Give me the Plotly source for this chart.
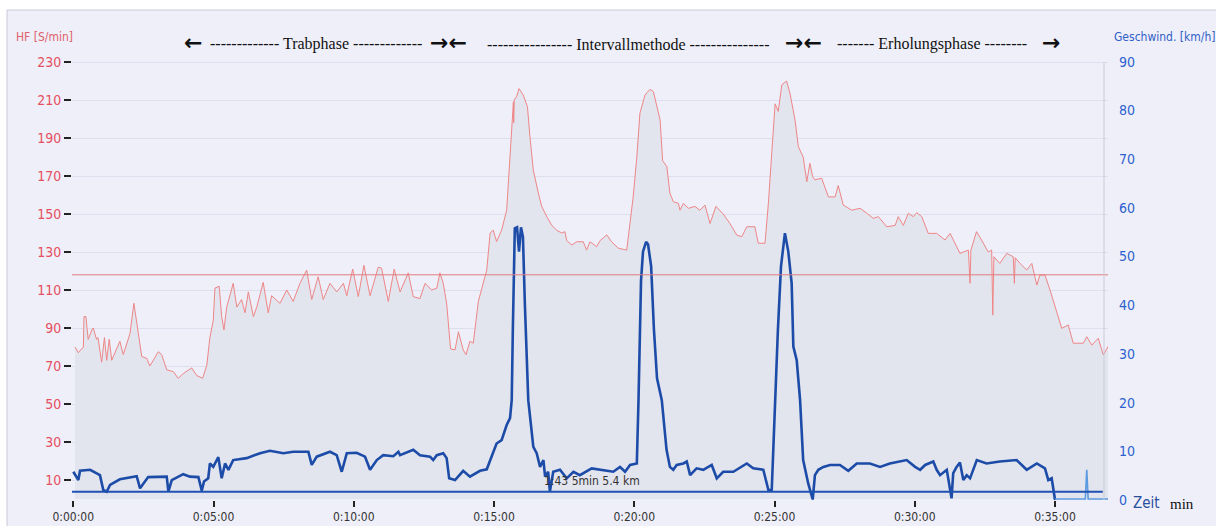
import plotly.graph_objects as go

# ---------------- data (time in minutes) ----------------
hf_time = [0.06,0.18,0.36,0.38,0.45,0.53,0.66,0.71,0.83,0.88,1.01,1.11,1.19,1.28,1.37,1.49,1.66,1.78,2.02,2.16,
           2.26,2.44,2.62,2.73,3.03,3.15,3.33,3.57,3.74,3.92,4.22,4.40,4.61,4.76,4.87,4.99,5.05,5.20,5.29,5.37,
           5.47,5.70,5.83,6.00,6.12,6.24,6.42,6.54,6.77,6.95,7.07,7.37,7.61,7.84,8.08,8.32,8.50,8.73,8.91,9.15,
           9.39,9.63,9.75,9.96,10.16,10.36,10.58,10.87,10.99,11.23,11.44,11.65,11.94,12.12,12.36,12.54,12.78,12.96,13.07,13.19,
           13.31,13.45,13.61,13.73,13.90,14.00,14.14,14.26,14.44,14.74,14.86,14.97,15.09,15.27,15.45,15.57,15.69,15.70,15.72,15.81,
           15.89,16.04,16.19,16.28,16.40,16.58,16.70,16.88,17.06,17.23,17.41,17.53,17.59,17.77,17.95,18.18,18.30,18.42,18.66,18.78,
           19.02,19.19,19.43,19.73,19.85,19.96,20.09,20.20,20.38,20.56,20.68,20.80,20.92,21.01,21.16,21.27,21.39,21.57,21.63,21.75,
           21.93,22.16,22.34,22.52,22.70,22.91,23.17,23.41,23.65,23.83,24.01,24.30,24.42,24.66,24.78,24.90,25.02,25.13,25.26,25.43,
           25.55,25.73,25.85,26.02,26.15,26.26,26.36,26.44,26.68,26.92,27.16,27.27,27.45,27.75,28.05,28.29,28.52,28.70,29.00,29.30,
           29.41,29.59,29.77,29.95,30.07,30.25,30.48,30.78,31.08,31.26,31.44,31.61,31.91,31.97,32.00,32.20,32.38,32.62,32.74,32.78,
           32.82,33.03,33.28,33.51,33.55,33.58,33.75,33.99,34.17,34.35,34.46,34.64,34.82,35.06,35.24,35.47,35.65,36.01,36.13,36.31,
           36.54,36.72,36.90]
hf_values = [80,77,80,96,96,84,89,90,84,85,72,85,73,84,73,77,83,76,87,103,
             92,75,74,70,77.5,76,68,67,63.5,66,69,65,63.5,70.5,85,94,111,112,96,89,
             101,113.5,101,105,98,109,96,101,114,98,107,103,110,104,113.5,120.5,105,117,105,113.5,
             109,113.5,107,121,106.5,123,107,122,121.5,104,121,109,119,106.5,105.5,113.5,110,111,119,113.5,
             103,79,78.5,88,78.5,76,83,82,104,120.5,140,141.5,135.5,141.5,152,178,209,198,210,212,
             216,212.6,206.5,190.7,173,161,154,148.6,144,141.5,140,140.7,136,133.7,135.4,135.4,131,135.4,132.8,136,
             139,135.4,132,131,145,159,180,203,212.6,215.6,214.4,206.5,199.5,178,175,161,156.5,155.6,152,155.6,
             153,154,152,154.7,145,154,150,145,139,138,143.3,143.3,134.6,134.6,155.6,182,208,204,218,220,
             213.5,199.5,185.4,180,167,176.7,169.6,168,168.8,159,159,165,154.7,152,153,150.4,147.7,148.6,143.3,144,
             148.6,144,150.4,148.6,150.7,148.6,139.8,139.8,136.3,139.8,134.6,129.3,131,113.5,131,140.7,136.3,130,131,96.8,
             127.5,124,129.3,127.5,113.5,127,124,120.5,124,112.6,117.9,117.9,110,97.7,89.8,91.6,82,82,85.4,81,
             84.6,75.8,80.5]

speed_time = [0.00,0.18,0.24,0.60,0.95,1.07,1.19,1.31,1.66,2.14,2.26,2.38,2.67,3.33,3.39,3.51,3.92,4.16,4.46,4.58,
              4.66,4.81,4.87,4.99,5.17,5.29,5.41,5.53,5.70,6.18,6.66,7.01,7.49,7.84,8.38,8.50,8.68,9.15,9.39,9.57,
              9.75,10.10,10.40,10.58,10.82,11.05,11.41,11.59,11.65,12.12,12.36,12.72,12.83,12.96,13.19,13.31,13.40,13.61,13.90,14.14,
              14.50,14.74,14.97,15.09,15.27,15.45,15.57,15.63,15.67,15.74,15.82,15.89,15.96,16.03,16.10,16.16,16.22,16.40,16.52,16.64,
              16.76,16.82,16.93,16.99,17.11,17.35,17.59,17.83,18.06,18.48,18.78,19.25,19.49,19.67,19.85,20.09,20.15,20.24,20.31,20.42,
              20.49,20.60,20.70,20.81,20.98,21.15,21.27,21.39,21.51,21.75,21.87,21.99,22.22,22.46,22.76,22.94,23.17,23.53,24.01,24.24,
              24.60,24.78,24.90,25.02,25.12,25.23,25.37,25.49,25.61,25.67,25.79,25.91,26.02,26.20,26.36,26.44,26.56,26.74,26.98,27.33,
              27.63,27.93,28.40,28.76,29.11,29.71,30.01,30.19,30.37,30.66,30.78,30.90,31.14,31.31,31.37,31.49,31.61,31.73,31.85,31.97,
              32.21,32.56,33.03,33.63,33.99,34.35,34.64,34.76,34.88,35.00]
speed_values = [5.8,4.1,6,6.2,5.1,2.05,1.7,3.1,4.25,4.7,4.9,2.4,4.7,4.8,1.7,4.1,5.3,4.8,4.7,1.9,
                3.8,4.45,7.5,6.8,8.8,4.45,7.5,6.2,8.2,8.6,9.6,10.1,9.6,9.9,9.9,7.2,8.9,9.9,9.2,5.8,
                9.6,9.7,8.9,6.2,8.2,9.2,9,9.9,9.2,10.3,9.2,8.9,8.2,9.2,9.6,8.6,4.45,4.1,6,4.8,
                6,6.3,9.6,11.6,12.3,15.4,16.8,20.5,35,55.8,56,51,56,54,40,28,20.5,10.9,9.6,6.8,
                8.2,4.8,5.8,1.7,5.8,6.2,4.45,5.8,5.1,6.5,6.2,5.8,6.8,5.8,7.2,7.5,20.5,45,51,53,
                52.5,48,35,25,20.5,10.3,6.8,6.2,7.2,7.5,7.9,5.1,6.5,6.2,7.2,4.45,5.8,5.8,7.5,6.5,
                6.2,2.05,2.05,20.5,35,48,54.8,51,44.5,31.5,28.7,20.5,8.2,3.4,0.1,5.1,6.2,6.8,7.2,7.2,
                6,7.5,7.5,6.8,7.5,8.2,6.8,6.2,7.2,7.9,6.2,5.1,6.2,0.35,5.5,6.8,7.7,4.1,5.1,4.45,
                8.2,7.5,7.9,8.2,6.2,7.5,6.5,4.1,4.45,0]

tail_time = [35.00, 36.08, 36.13, 36.18, 36.90]
tail_values = [0.2, 0.2, 6.2, 0.2, 0.2]

hf_threshold = 118
speed_baseline = 1.7

hf_ticks = [10, 30, 50, 70, 90, 110, 130, 150, 170, 190, 210, 230]
speed_ticks = [0, 10, 20, 30, 40, 50, 60, 70, 80, 90]
time_ticks = [0, 5, 10, 15, 20, 25, 30, 35]
time_labels = ["0:00:00", "0:05:00", "0:10:00", "0:15:00", "0:20:00", "0:25:00", "0:30:00", "0:35:00"]

# ---------------- geometry helpers ----------------
L, R, T, B = 72, 1108, 55, 500
W, H = 1216, 526
def xp(px):
    return (px - L) / (R - L)
def yp(py):
    return (B - py) / (B - T)

COND = "Liberation Sans Narrow, DejaVu Sans Condensed, Roboto Condensed, Arial Narrow, Liberation Sans, sans-serif"
SERIF = "Liberation Serif, DejaVu Serif, serif"

fig = go.Figure()

fig.add_trace(go.Scatter(
    x=hf_time, y=hf_values, mode="lines", fill="tozeroy",
    fillcolor="#e2e4ee", line=dict(color="#ee8686", width=1), name="HF", yaxis="y"))

fig.add_trace(go.Scatter(
    x=speed_time, y=speed_values, mode="lines",
    line=dict(color="#1c4ca8", width=2.6), name="Geschwind.", yaxis="y2"))

fig.add_trace(go.Scatter(
    x=tail_time, y=tail_values, mode="lines",
    line=dict(color="#5a9ae0", width=1.6), name="tail", yaxis="y2"))

shapes = [
    dict(type="rect", xref="paper", yref="paper", x0=xp(7), x1=xp(1230), y0=yp(10), y1=yp(540),
         fillcolor="#efeff9", line=dict(color="#c9c9d9", width=1), layer="below"),
    dict(type="line", xref="paper", yref="y", x0=0, x1=1, y0=hf_threshold, y1=hf_threshold,
         line=dict(color="#e27c7c", width=1)),
    dict(type="line", xref="paper", yref="y2", x0=0, x1=0.995, y0=speed_baseline, y1=speed_baseline,
         line=dict(color="#1f52b2", width=2)),
    dict(type="line", xref="paper", yref="paper", x0=xp(1104), x1=xp(1104), y0=0, y1=yp(62),
         line=dict(color="#c8cad8", width=1)),
]

ann = []
def add_text(text, px, py, size, color, family, xanchor="center"):
    ann.append(dict(text=text, x=xp(px), y=yp(py), xref="paper", yref="paper",
                    showarrow=False, xanchor=xanchor, yanchor="middle",
                    font=dict(size=size, color=color, family=family)))

add_text("HF [S/min]", 14, 37, 12, "#e0606a", COND, "left")
add_text("Geschwind. [km/h]", 1112, 37, 12, "#3060c8", COND, "left")
add_text("Zeit", 1131, 503, 15, "#2a4f9c", COND, "left")
add_text("min", 1168, 504, 15, "#111111", SERIF, "left")
add_text("1:43 5min 5.4 km", 592, 481, 12, "#333333", COND)

# phase header
AR = "DejaVu Sans"
add_text("<b>←</b>", 193, 43, 22, "#111111", AR)
add_text("------------- Trabphase -------------", 316, 44, 16, "#111111", SERIF)
add_text("<b>→←</b>", 448, 43, 22, "#111111", AR)
add_text("---------------- Intervallmethode ---------------", 628, 44, 16, "#111111", SERIF)
add_text("<b>→←</b>", 803, 43, 22, "#111111", AR)
add_text("------- Erholungsphase --------", 932, 44, 16, "#111111", SERIF)
add_text("<b>→</b>", 1051, 43, 22, "#111111", AR)

x_range = [(L - 73.3) / 28.05, (R - 73.3) / 28.05]
hf_range = [(B - 499) / -1.9, (499 - T) / 1.9]
sp_range = [0, (B - T) / 4.87]

fig.update_layout(
    width=W, height=H,
    margin=dict(l=L, r=W - R, t=T, b=H - B, autoexpand=False),
    paper_bgcolor="#ffffff", plot_bgcolor="rgba(0,0,0,0)",
    showlegend=False,
    shapes=shapes, annotations=ann,
    xaxis=dict(range=x_range, tickvals=time_ticks, ticktext=time_labels, automargin=False,
               showgrid=False, zeroline=False, showline=False,
               ticks="outside", ticklen=6, tickwidth=2, tickcolor="#222222",
               tickfont=dict(size=12, color="#333333", family=COND)),
    yaxis=dict(range=hf_range, tickvals=hf_ticks, showgrid=True, gridcolor="#dedfee", gridwidth=1,
               zeroline=False, showline=False, automargin=False,
               ticks="outside", ticklen=7, tickwidth=2, tickcolor="#222222",
               tickfont=dict(size=14, color="#e5505f", family=COND)),
    yaxis2=dict(range=sp_range, tickvals=speed_ticks, overlaying="y", side="right",
                showgrid=False, zeroline=False, showline=False, ticks="", automargin=False,
                ticklabelstandoff=10,
                tickfont=dict(size=14, color="#2d5fcf", family=COND)),
)

fig.write_html("out.html")
